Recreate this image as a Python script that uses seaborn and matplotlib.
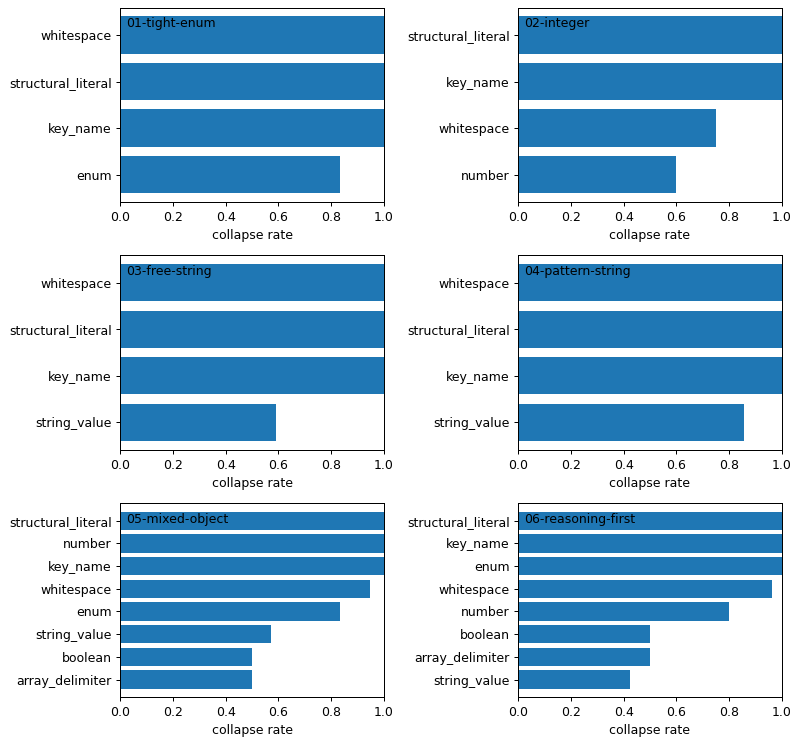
import matplotlib
matplotlib.use("Agg")
import matplotlib.pyplot as plt
import pandas as pd
import seaborn as sns

# categories listed top to bottom as they appear in each panel
titles = ["01-tight-enum", "02-integer", "03-free-string",
          "04-pattern-string", "05-mixed-object", "06-reasoning-first"]

cats_01 = ["whitespace", "structural_literal", "key_name", "enum"]
rate_01 = [1.0, 1.0, 1.0, 0.833]

cats_02 = ["structural_literal", "key_name", "whitespace", "number"]
rate_02 = [1.0, 1.0, 0.75, 0.6]

cats_03 = ["whitespace", "structural_literal", "key_name", "string_value"]
rate_03 = [1.0, 1.0, 1.0, 0.59]

cats_04 = ["whitespace", "structural_literal", "key_name", "string_value"]
rate_04 = [1.0, 1.0, 1.0, 0.857]

cats_05 = ["structural_literal", "number", "key_name", "whitespace",
           "enum", "string_value", "boolean", "array_delimiter"]
rate_05 = [1.0, 1.0, 1.0, 0.95, 0.833, 0.571, 0.5, 0.5]

cats_06 = ["structural_literal", "key_name", "enum", "whitespace",
           "number", "boolean", "array_delimiter", "string_value"]
rate_06 = [1.0, 1.0, 1.0, 0.962, 0.8, 0.5, 0.5, 0.423]

panels = [(cats_01, rate_01), (cats_02, rate_02), (cats_03, rate_03),
          (cats_04, rate_04), (cats_05, rate_05), (cats_06, rate_06)]

DPI = 90
fig, axes = plt.subplots(3, 2, figsize=(800 / DPI, 745 / DPI), dpi=DPI)
fig.subplots_adjust(left=0.1506, right=0.9769, top=0.9899, bottom=0.0638,
                    wspace=0.513, hspace=0.2725)

for ax, title, (cats, rates) in zip(axes.flat, titles, panels):
    df = pd.DataFrame({"category": cats, "rate": rates})
    sns.barplot(data=df, x="rate", y="category", orient="h", ax=ax,
                color="#1f77b4", saturation=1, width=0.8, linewidth=0)
    n = len(cats)
    # mimic matplotlib's default 5% data margin
    pad = 0.05 * (n - 1 + 0.8)
    ax.set_ylim(n - 1 + 0.4 + pad, -0.4 - pad)
    ax.set_xlim(0, 1)
    ax.set_xlabel("collapse rate")
    ax.set_ylabel("")
    ax.text(0.02, 0.95, title, transform=ax.transAxes, ha="left", va="top",
            fontsize=10)

fig.savefig("out.png", dpi=DPI)
